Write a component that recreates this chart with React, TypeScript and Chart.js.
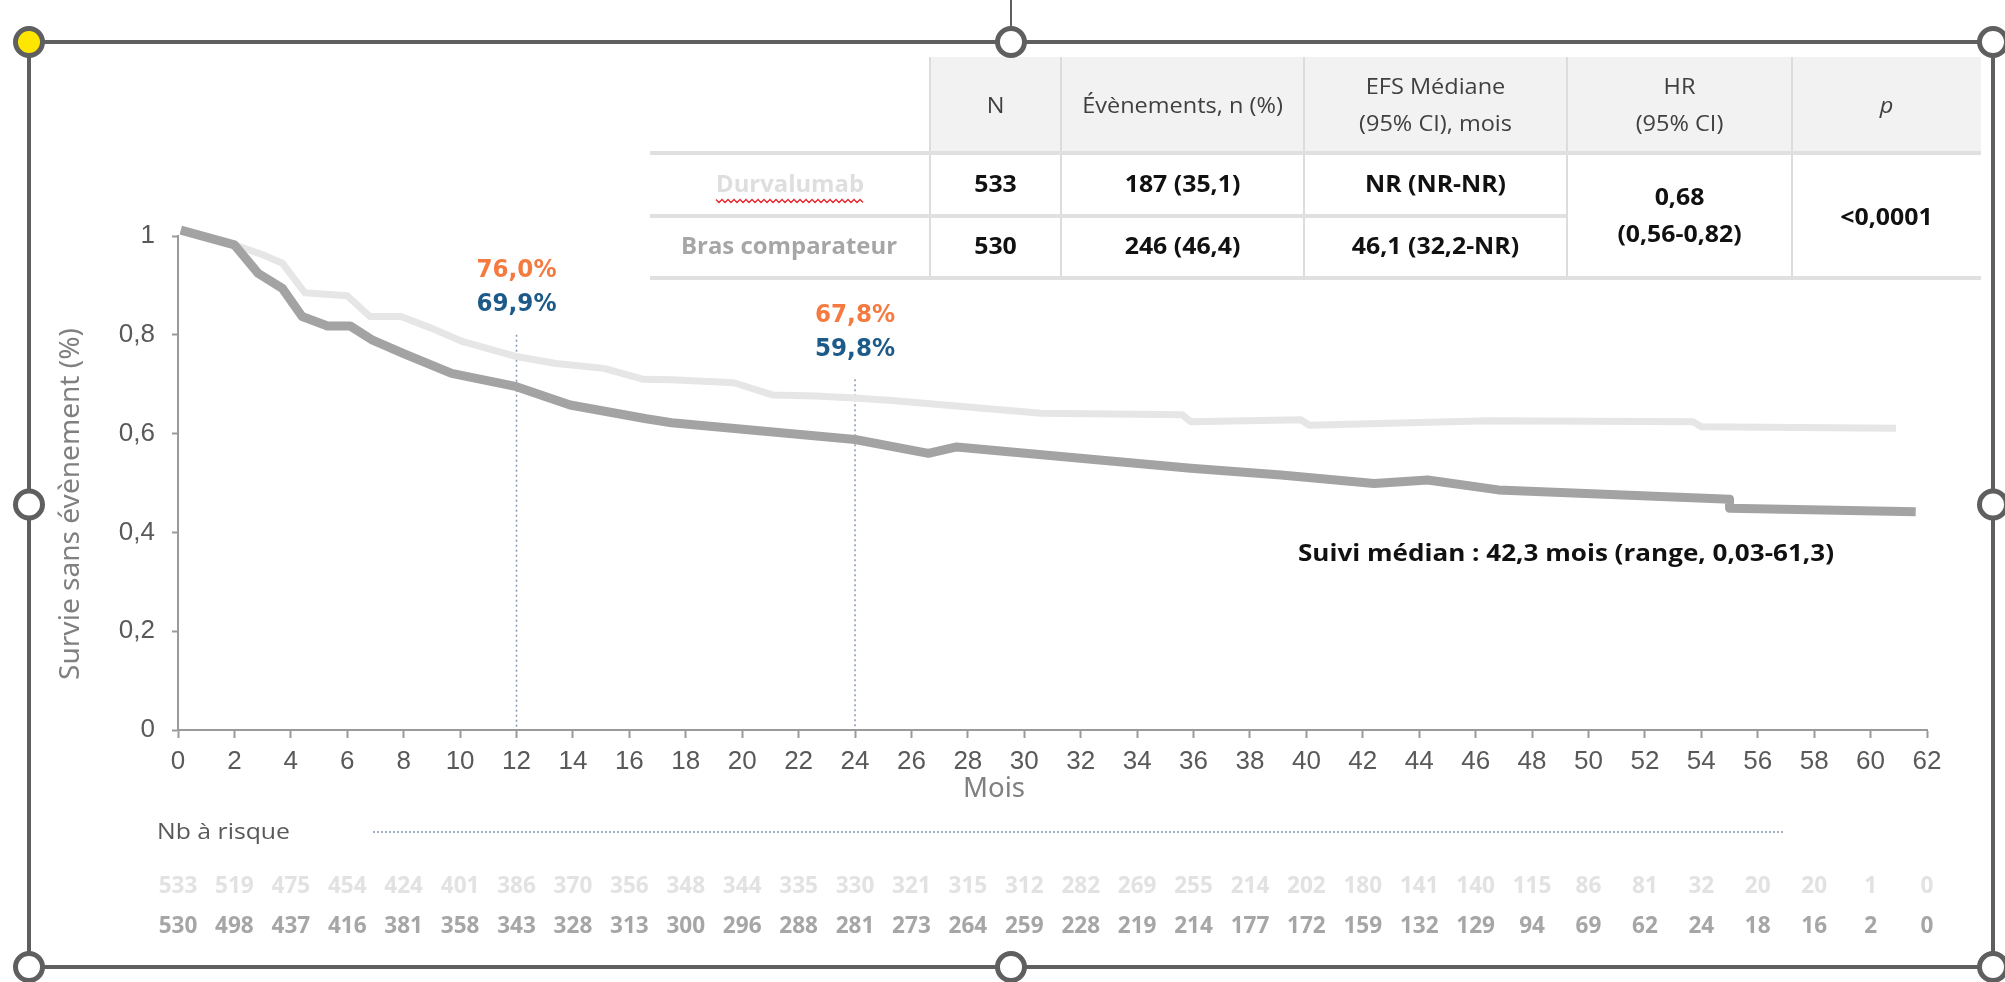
import { useEffect, useRef } from "react";
import { Chart, registerables } from "chart.js";

Chart.register(...registerables);

// ---------------- DATA ----------------
const durvaMonths = [0.1, 2.0, 3.0, 3.7, 4.5, 6.0, 6.8, 7.9, 9.0, 10.1, 12.0, 13.4, 15.1, 16.5, 17.5, 19.7, 21.1, 22.6, 24.0, 25.3, 27.8, 30.6, 35.6, 35.9, 39.8, 40.1, 46.5, 53.7, 54.0, 60.9];
const durvaSurvival = [1.012, 0.982, 0.962, 0.945, 0.885, 0.879, 0.837, 0.837, 0.813, 0.786, 0.756, 0.742, 0.732, 0.71, 0.709, 0.703, 0.678, 0.676, 0.672, 0.667, 0.655, 0.641, 0.638, 0.624, 0.628, 0.617, 0.626, 0.624, 0.614, 0.611];

const compMonths = [0.1, 2.0, 2.85, 3.7, 4.4, 5.3, 6.1, 6.9, 8.0, 9.7, 12.0, 13.9, 16.6, 17.5, 24.0, 26.6, 27.6, 31.4, 35.9, 39.1, 42.4, 44.3, 46.8, 55.0, 55.0, 61.6];
const compSurvival = [1.012, 0.982, 0.924, 0.894, 0.837, 0.818, 0.818, 0.789, 0.762, 0.722, 0.695, 0.658, 0.63, 0.622, 0.588, 0.56, 0.573, 0.553, 0.53, 0.516, 0.499, 0.506, 0.486, 0.467, 0.449, 0.442];

const atRiskMonths = [0, 2, 4, 6, 8, 10, 12, 14, 16, 18, 20, 22, 24, 26, 28, 30, 32, 34, 36, 38, 40, 42, 44, 46, 48, 50, 52, 54, 56, 58, 60, 62];
const atRiskDurva = [533, 519, 475, 454, 424, 401, 386, 370, 356, 348, 344, 335, 330, 321, 315, 312, 282, 269, 255, 214, 202, 180, 141, 140, 115, 86, 81, 32, 20, 20, 1, 0];
const atRiskComp = [530, 498, 437, 416, 381, 358, 343, 328, 313, 300, 296, 288, 281, 273, 264, 259, 228, 219, 214, 177, 172, 159, 132, 129, 94, 69, 62, 24, 18, 16, 2, 0];

const landmarkMonths = [12, 24];
const landmarkTop = [0.8, 0.71];
const landmarkDurvaText = ["76,0%", "67,8%"];
const landmarkCompText = ["69,9%", "59,8%"];

const seriesNames = ["Durvalumab", "Bras comparateur"];
const tableHeaders = [["N"], ["Évènements, n (%)"], ["EFS Médiane", "(95% CI), mois"], ["HR", "(95% CI)"], ["p"]];
const rowN = ["533", "530"];
const rowEvents = ["187 (35,1)", "246 (46,4)"];
const rowMedian = ["NR (NR-NR)", "46,1 (32,2-NR)"];
const hrText = ["0,68", "(0,56-0,82)"];
const pText = "<0,0001";

const yAxisTitle = "Survie sans évènement (%)";
const xAxisTitle = "Mois";
const atRiskTitle = "Nb à risque";
const followUpText = "Suivi médian : 42,3 mois (range, 0,03-61,3)";

// ---------------- STYLE ----------------
const LIGHT = "#e6e6e6";
const DARK = "#a3a3a3";
const AXIS = "#9a9a9a";
const ORANGE = "#f47a3f";
const BLUE = "#1c5a8a";
const DOT = "#8497b0";

type TOpts = { font: string; color: string; align?: CanvasTextAlign; width?: number; sx?: number; baseline?: CanvasTextBaseline };
function txt(ctx: CanvasRenderingContext2D, s: string, x: number, y: number, o: TOpts) {
  ctx.save();
  ctx.font = o.font;
  ctx.fillStyle = o.color;
  ctx.textBaseline = o.baseline || "middle";
  ctx.textAlign = o.align || "center";
  let sx = o.sx || 1;
  if (o.width) {
    const w = ctx.measureText(s).width;
    sx = o.width / w;
  }
  ctx.translate(x, y);
  ctx.scale(sx, 1);
  ctx.fillText(s, 0, 0);
  ctx.restore();
}

const overlayPlugin = {
  id: "overlay",
  beforeDatasetsDraw(chart: any) {
    const ctx: CanvasRenderingContext2D = chart.ctx;
    const xs = chart.scales.x;
    const ys = chart.scales.y;
    ctx.save();
    ctx.strokeStyle = DOT;
    ctx.lineWidth = 1.5;
    ctx.setLineDash([2, 3]);
    landmarkMonths.forEach((m, i) => {
      const x = xs.getPixelForValue(m);
      ctx.beginPath();
      ctx.moveTo(x, ys.getPixelForValue(landmarkTop[i]));
      ctx.lineTo(x, ys.getPixelForValue(0));
      ctx.stroke();
    });
    ctx.restore();
  },
  afterDraw(chart: any) {
    const ctx: CanvasRenderingContext2D = chart.ctx;
    const xs = chart.scales.x;
    const ys = chart.scales.y;

    // landmark labels
    landmarkMonths.forEach((m, i) => {
      const x = xs.getPixelForValue(m);
      const top = ys.getPixelForValue(landmarkTop[i]);
      txt(ctx, landmarkDurvaText[i], x, top - 64, { font: 'bold 25px "DejaVu Sans"', color: ORANGE, width: 80 });
      txt(ctx, landmarkCompText[i], x, top - 30, { font: 'bold 25px "DejaVu Sans"', color: BLUE, width: 80 });
    });

    // axis titles
    ctx.save();
    ctx.translate(71, 504);
    ctx.rotate(-Math.PI / 2);
    txt(ctx, yAxisTitle, 0, 0, { font: '27px "Noto Sans"', color: "#808080", width: 352 });
    ctx.restore();
    txt(ctx, xAxisTitle, 994, 789, { font: '27px "Noto Sans"', color: "#808080", width: 62 });

    // follow-up text
    txt(ctx, followUpText, 1298, 554, { font: 'bold 23px "Open Sans"', color: "#111", align: "left", width: 536 });

    // at risk
    txt(ctx, atRiskTitle, 157, 833, { font: '21px "Open Sans"', color: "#595959", align: "left", width: 133 });
    ctx.save();
    ctx.strokeStyle = DOT;
    ctx.lineWidth = 1.5;
    ctx.setLineDash([2, 2]);
    ctx.beginPath();
    ctx.moveTo(373, 832);
    ctx.lineTo(1784, 832);
    ctx.stroke();
    ctx.restore();
    atRiskMonths.forEach((m, i) => {
      const x = xs.getPixelForValue(m);
      txt(ctx, String(atRiskDurva[i]), x, 886, { font: 'bold 23px "Open Sans"', color: "#e2e2e2", sx: 0.98 });
      txt(ctx, String(atRiskComp[i]), x, 926, { font: 'bold 23px "Open Sans"', color: "#a6a6a6", sx: 0.98 });
    });

    // table
    const cols = [930, 1061, 1304, 1567, 1792, 1981];
    const top = 57, headBottom = 153, row1Bottom = 216, row2Bottom = 278, left = 650;
    ctx.save();
    ctx.fillStyle = "#f2f2f2";
    ctx.fillRect(cols[0], top, cols[5] - cols[0], headBottom - top);
    ctx.strokeStyle = "#dcdcdc";
    ctx.lineWidth = 2;
    for (let i = 0; i < 5; i++) {
      ctx.beginPath();
      ctx.moveTo(cols[i], top);
      ctx.lineTo(cols[i], row2Bottom);
      ctx.stroke();
    }
    ctx.lineWidth = 4;
    ctx.strokeStyle = "#e0e0e0";
    [[headBottom, cols[5]], [row1Bottom, cols[3]], [row2Bottom, cols[5]]].forEach(([y, r]) => {
      ctx.beginPath();
      ctx.moveTo(left, y);
      ctx.lineTo(r, y);
      ctx.stroke();
    });
    ctx.restore();

    const centers = cols.slice(0, 5).map((c, i) => (c + cols[i + 1]) / 2);
    const headFont = '21px "Open Sans"';
    tableHeaders.forEach((lines, i) => {
      const f = i === 4 ? 'italic 21px "Open Sans"' : headFont;
      if (lines.length === 1) txt(ctx, lines[0], centers[i], 107, { font: f, color: "#404040", sx: 1.12 });
      else {
        txt(ctx, lines[0], centers[i], 88, { font: f, color: "#404040", sx: 1.12 });
        txt(ctx, lines[1], centers[i], 125, { font: f, color: "#404040", sx: 1.12 });
      }
    });
    const rowY = [185, 247];
    const bold = 'bold 23px "Open Sans"';
    txt(ctx, seriesNames[0], 790, rowY[0], { font: bold, color: "#dedede", width: 148 });
    txt(ctx, seriesNames[1], 789, rowY[1], { font: bold, color: "#a6a6a6", width: 216 });
    // spell-check wavy underline
    ctx.save();
    ctx.strokeStyle = "#e8262b";
    ctx.lineWidth = 1.3;
    ctx.beginPath();
    for (let x = 716, k = 0; x <= 864; x += 3, k++) {
      const y = 201 + (k % 2 === 0 ? -1.5 : 1.5);
      if (k === 0) ctx.moveTo(x, y);
      else ctx.lineTo(x, y);
    }
    ctx.stroke();
    ctx.restore();
    for (let r = 0; r < 2; r++) {
      txt(ctx, rowN[r], centers[0], rowY[r], { font: bold, color: "#111", sx: 1.08 });
      txt(ctx, rowEvents[r], centers[1], rowY[r], { font: bold, color: "#111", sx: 1.08 });
      txt(ctx, rowMedian[r], centers[2], rowY[r], { font: bold, color: "#111", sx: 1.08 });
    }
    txt(ctx, hrText[0], centers[3], 198, { font: bold, color: "#111", sx: 1.08 });
    txt(ctx, hrText[1], centers[3], 235, { font: bold, color: "#111", sx: 1.08 });
    txt(ctx, pText, centers[4], 218, { font: bold, color: "#111", sx: 1.08 });

    // selection frame
    const fl = 29, ft = 42, fr = 1993, fb = 967;
    ctx.save();
    ctx.strokeStyle = "#5f5f5f";
    ctx.lineWidth = 4;
    ctx.strokeRect(fl, ft, fr - fl, fb - ft);
    ctx.lineWidth = 2;
    ctx.beginPath();
    ctx.moveTo((fl + fr) / 2, 0);
    ctx.lineTo((fl + fr) / 2, ft);
    ctx.stroke();
    const mx = (fl + fr) / 2, my = (ft + fb) / 2;
    const handles = [[fl, ft], [mx, ft], [fr, ft], [fl, my], [fr, my], [fl, fb], [mx, fb], [fr, fb]];
    handles.forEach(([hx, hy], i) => {
      ctx.beginPath();
      ctx.arc(hx, hy, 13.5, 0, Math.PI * 2);
      ctx.fillStyle = i === 0 ? "#ffe600" : "#ffffff";
      ctx.fill();
      ctx.lineWidth = 5;
      ctx.strokeStyle = "#5f5f5f";
      ctx.stroke();
    });
    ctx.restore();
  },
};

export default function App() {
  const ref = useRef<HTMLCanvasElement | null>(null);
  useEffect(() => {
    if (!ref.current) return;
    const toPts = (xs: number[], ys: number[]) => xs.map((x, i) => ({ x, y: ys[i] }));
    const chart = new Chart(ref.current, {
      type: "line",
      data: {
        datasets: [
          {
            label: seriesNames[0],
            data: toPts(durvaMonths, durvaSurvival),
            borderColor: LIGHT,
            borderWidth: 7,
            pointRadius: 0,
            tension: 0,
            borderJoinStyle: "round",
            clip: false as any,
            order: 2,
          },
          {
            label: seriesNames[1],
            data: toPts(compMonths, compSurvival),
            borderColor: DARK,
            borderWidth: 9,
            pointRadius: 0,
            tension: 0,
            borderJoinStyle: "round",
            clip: false as any,
            order: 1,
          },
        ],
      },
      options: {
        responsive: false,
        animation: false,
        devicePixelRatio: 1,
        layout: { padding: { left: 0, top: 236, right: 78, bottom: 0 } },
        plugins: { legend: { display: false }, tooltip: { enabled: false } },
        scales: {
          x: {
            type: "linear",
            min: 0,
            max: 62,
            ticks: {
              stepSize: 2,
              autoSkip: false,
              maxRotation: 0,
              color: "#595959",
              padding: 8,
              font: { family: '"Liberation Sans", Arial', size: 26 },
            },
            grid: { drawOnChartArea: false, drawTicks: true, tickLength: 8, tickColor: AXIS, tickWidth: 2 },
            border: { display: true, color: AXIS, width: 2 },
            afterFit: (s: any) => {
              s.height = 252;
            },
          },
          y: {
            min: 0,
            max: 1,
            ticks: {
              stepSize: 0.2,
              color: "#595959",
              padding: 17,
              font: { family: '"Liberation Sans", Arial', size: 26 },
              callback: (v: any) => {
                const n = Number(v);
                if (Math.abs(n) < 1e-9) return "0";
                if (Math.abs(n - 1) < 1e-9) return "1";
                return n.toFixed(1).replace(".", ",");
              },
            },
            grid: { drawOnChartArea: false, drawTicks: true, tickLength: 6, tickColor: AXIS, tickWidth: 2 },
            border: { display: true, color: AXIS, width: 2 },
            afterFit: (s: any) => {
              s.width = 178;
            },
          },
        },
      },
      plugins: [overlayPlugin as any],
    });
    return () => chart.destroy();
  }, []);
  return (
    <div style={{ position: "fixed", left: 0, top: 0, width: 2005, height: 982, background: "#fff", overflow: "hidden" }}>
      <canvas ref={ref} width={2005} height={982} style={{ width: 2005, height: 982, display: "block" }} />
    </div>
  );
}
